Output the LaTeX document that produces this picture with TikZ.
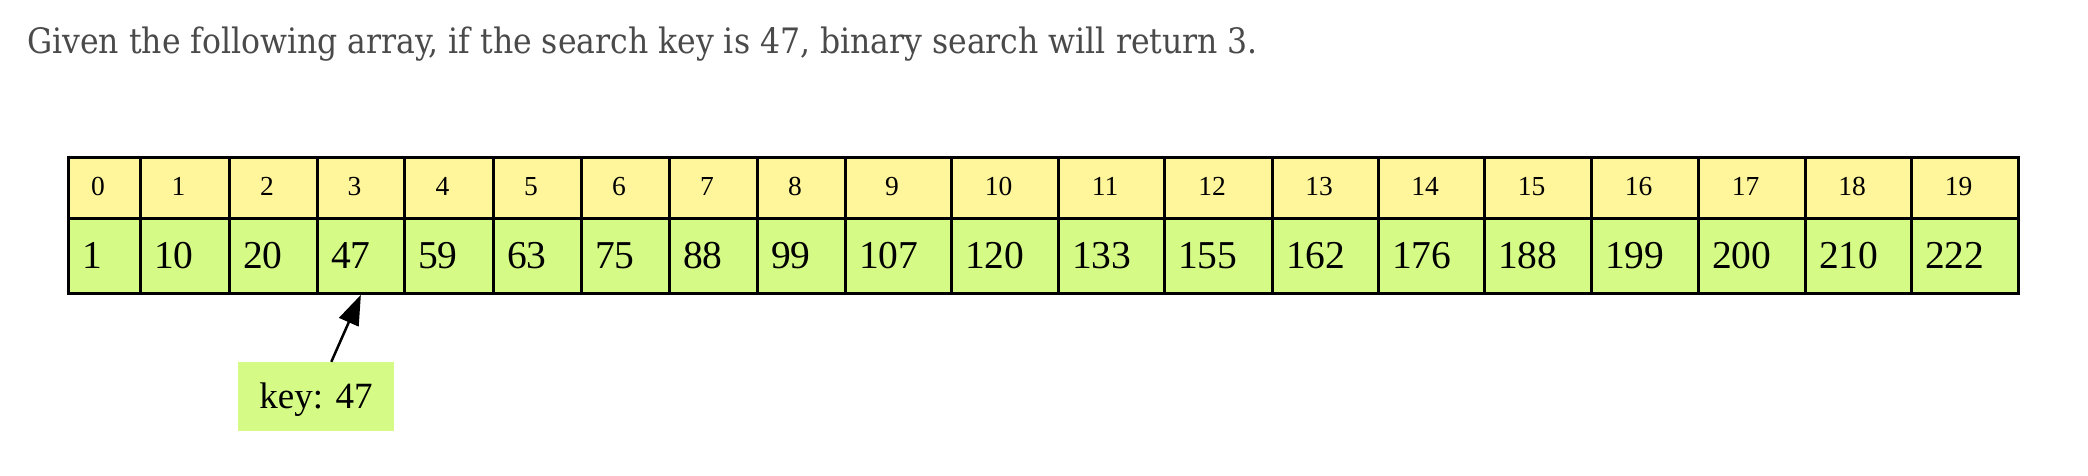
\documentclass[tikz,border=0pt]{standalone}
\usepackage{fontspec}
\setmainfont{Liberation Serif}
\newfontfamily\titlefont{DejaVu Serif Condensed}
\usetikzlibrary{arrows.meta}
\definecolor{idxyellow}{HTML}{FFF59B}
\definecolor{valgreen}{HTML}{D5FB86}
\definecolor{titlegray}{HTML}{4A4A4A}
\tikzset{
  hcell/.style={draw=black, fill=idxyellow, line width=2.8pt, inner sep=0pt, anchor=north west, minimum height=61pt},
  vcell/.style={draw=black, fill=valgreen, line width=2.8pt, inner sep=0pt, anchor=north west, minimum height=75pt},
  idxtext/.style={inner sep=0pt, anchor=base, font=\fontsize{27.5}{30}\selectfont},
  valtext/.style={inner sep=0pt, anchor=base west, font=\fontsize{39.5}{44}\selectfont},
  keybox/.style={fill=valgreen, inner sep=0pt, minimum width=156pt, minimum height=69pt, text height=30pt, text depth=7pt, font=\fontsize{37}{42}\selectfont},
  arrowline/.style={line width=2.5pt, -{Triangle[length=30pt,width=21pt]}},
  titletext/.style={inner sep=0pt, anchor=base west, text=titlegray, font=\titlefont\fontsize{35}{40}\selectfont}
}
\begin{document}
\begin{tikzpicture}[x=1pt,y=-1pt]
\useasboundingbox (0,0) rectangle (2088,476);
\node[titletext] (title) at (27,54) {Given the following array, if the search key is 47, binary search will return 3.};
\foreach \i/\l/\r/\v in {0/67/139/1, 1/139/228/10, 2/228/316/20, 3/316/403/47, 4/403/492/59, 5/492/580/63, 6/580/668/75, 7/668/756/88, 8/756/844/99, 9/844/950/107, 10/950/1057/120, 11/1057/1163/133, 12/1163/1271/155, 13/1271/1377/162, 14/1377/1483/176, 15/1483/1590/188, 16/1590/1697/199, 17/1697/1804/200, 18/1804/1910/210, 19/1910/2017/222}{
  \pgfmathsetmacro\w{\r-\l}
  \pgfmathsetmacro\m{(\l+\r)/2-5}
  \node[hcell, minimum width=\w pt] (h\i) at (\l,156) {};
  \node[vcell, minimum width=\w pt] (c\i) at (\l,217) {};
  \node[idxtext] (hn\i) at (\m,195) {\i};
  \node[valtext] (vn\i) at (\l+15,268) {\v};
}
\node[keybox] (key) at (316,396.5) {key: 47};
\draw[arrowline] (key) -- (c3.south);
\end{tikzpicture}
\end{document}
